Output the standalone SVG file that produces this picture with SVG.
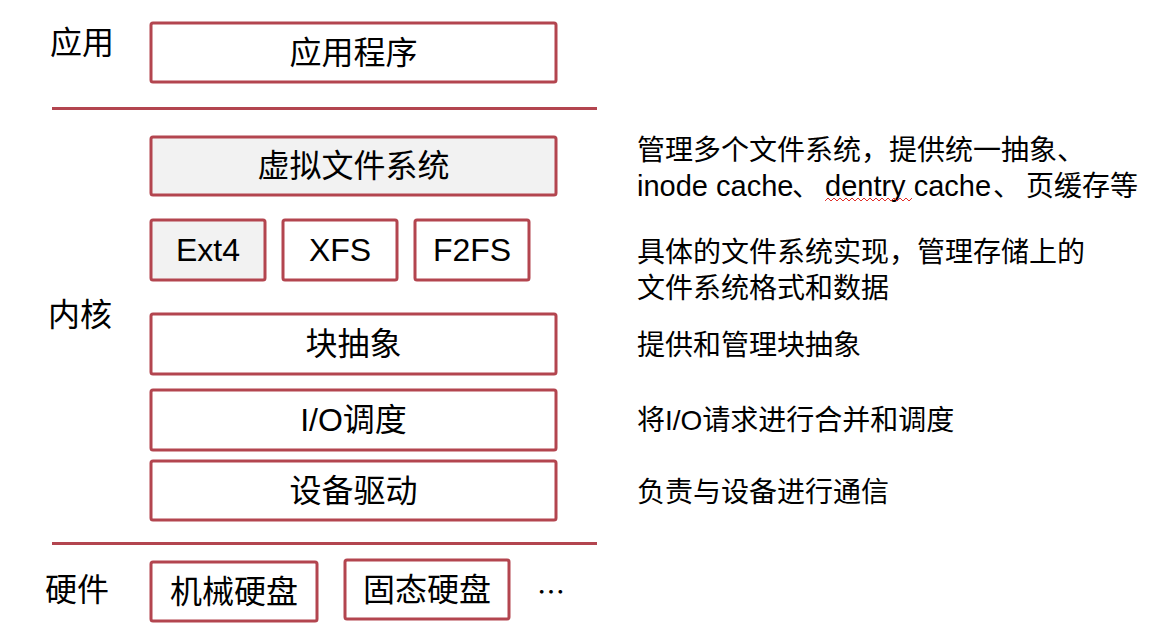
<svg xmlns="http://www.w3.org/2000/svg" width="1172" height="628" viewBox="0 0 1172 628">
<style>
.box{fill:#ffffff;stroke:#b3454f;stroke-width:3}
.gray{fill:#f2f2f2}
.sep{stroke:#b3454f;stroke-width:3}
text{font-family:"Liberation Sans","Noto Sans CJK SC",sans-serif;fill:#000;dominant-baseline:central}
.c{font-size:32px;text-anchor:middle}
.l{font-size:32px}
.d{font-size:28px}
.lat{font-size:29px}
</style>
<rect width="1172" height="628" fill="#ffffff"/>
<g id="labels">
<text class="l" x="50" y="43">应用</text>
<text class="l" x="48" y="315">内核</text>
<text class="l" x="45" y="590">硬件</text>
</g>
<g id="separators">
<line class="sep" x1="52" y1="108.5" x2="597" y2="108.5"/>
<line class="sep" x1="52" y1="543.5" x2="597" y2="543.5"/>
</g>
<g id="app"><rect class="box" x="151" y="23" width="405" height="59" rx="2"/><text class="c" x="353.5" y="52.5">应用程序</text></g>
<g id="vfs"><rect class="box gray" x="151" y="137" width="405" height="58" rx="2"/><text class="c" x="353.5" y="166">虚拟文件系统</text></g>
<g id="ext4"><rect class="box gray" x="151" y="220" width="114" height="60" rx="2"/><text class="c" x="208" y="250">Ext4</text></g>
<g id="xfs"><rect class="box" x="283" y="220" width="114" height="60" rx="2"/><text class="c" x="340" y="250">XFS</text></g>
<g id="f2fs"><rect class="box" x="415" y="220" width="114" height="60" rx="2"/><text class="c" x="472" y="250">F2FS</text></g>
<g id="block"><rect class="box" x="151" y="314" width="405" height="60" rx="2"/><text class="c" x="353.5" y="344">块抽象</text></g>
<g id="io"><rect class="box" x="151" y="390" width="405" height="60" rx="2"/><text class="c" x="353.5" y="420">I/O调度</text></g>
<g id="driver"><rect class="box" x="151" y="461" width="405" height="59" rx="2"/><text class="c" x="353.5" y="490.5">设备驱动</text></g>
<g id="hdd"><rect class="box" x="151" y="562" width="166" height="59" rx="2"/><text class="c" x="234" y="591.5">机械硬盘</text></g>
<g id="ssd"><rect class="box" x="345" y="560" width="164" height="59" rx="2"/><text class="c" x="427" y="589.5">固态硬盘</text></g>
<g id="more"><text x="537" y="591" style="font-family:'Noto Sans CJK SC',sans-serif;font-size:28px">…</text></g>
<g id="descriptions">
<text class="d" x="637" y="150">管理多个文件系统，提供统一抽象、</text>
<text class="d" y="186"><tspan class="lat" x="637">inode cache</tspan><tspan x="792">、</tspan><tspan class="lat" x="825">dentry cache</tspan><tspan x="993">、</tspan><tspan x="1026">页缓存等</tspan></text>
<path d="M825 201 l3 -3 l3 3 l3 -3 l3 3 l3 -3 l3 3 l3 -3 l3 3 l3 -3 l3 3 l3 -3 l3 3 l3 -3 l3 3 l3 -3 l3 3 l3 -3 l3 3 l3 -3 l3 3 l3 -3 l3 3 l3 -3 l3 3 l3 -3 l3 3 l3 -3 l3 3 l3 -3" fill="none" stroke="#e0302a" stroke-width="1"/>
<text class="d" x="637" y="252">具体的文件系统实现，管理存储上的</text>
<text class="d" x="637" y="288">文件系统格式和数据</text>
<text class="d" x="637" y="345">提供和管理块抽象</text>
<text class="d" x="637" y="420">将I/O请求进行合并和调度</text>
<text class="d" x="637" y="492">负责与设备进行通信</text>
</g>
</svg>
